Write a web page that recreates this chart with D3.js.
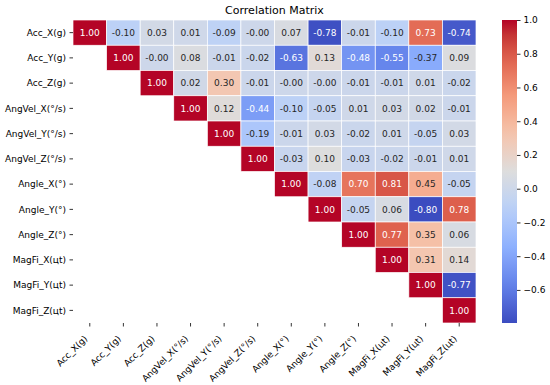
<!DOCTYPE html>
<html><head><meta charset="utf-8">
<script src="https://cdn.jsdelivr.net/npm/d3@7"></script>
<style>
html,body{margin:0;padding:0;background:#fff;}
text{font-family:"DejaVu Sans",sans-serif;}
</style></head>
<body>
<svg id="chart" width="550" height="385"></svg>
<script>
const labels = ["Acc_X(g)","Acc_Y(g)","Acc_Z(g)","AngVel_X(°/s)","AngVel_Y(°/s)","AngVel_Z(°/s)",
  "Angle_X(°)","Angle_Y(°)","Angle_Z(°)","MagFi_X(цt)","MagFi_Y(цt)","MagFi_Z(цt)"];
// upper-triangle rows (starting at the diagonal)
const row0 = [1.00,-0.10,0.03,0.01,-0.09,-0.001,0.07,-0.78,-0.01,-0.10,0.73,-0.74];
const row1 = [1.00,-0.001,0.08,-0.01,-0.02,-0.63,0.13,-0.48,-0.55,-0.37,0.09];
const row2 = [1.00,0.02,0.30,-0.01,-0.001,-0.001,-0.01,-0.01,0.01,-0.02];
const row3 = [1.00,0.12,-0.44,-0.10,-0.05,0.01,0.03,0.02,-0.01];
const row4 = [1.00,-0.19,-0.01,0.03,-0.02,0.01,-0.05,0.03];
const row5 = [1.00,-0.03,0.10,-0.03,-0.02,-0.01,0.01];
const row6 = [1.00,-0.08,0.70,0.81,0.45,-0.05];
const row7 = [1.00,-0.05,0.06,-0.796,0.78];
const row8 = [1.00,0.77,0.35,0.06];
const row9 = [1.00,0.31,0.14];
const row10 = [1.00,-0.77];
const row11 = [1.00];
const rows = [row0,row1,row2,row3,row4,row5,row6,row7,row8,row9,row10,row11];
const cbarTicks = [1.0,0.8,0.6,0.4,0.2,0.0,-0.2,-0.4,-0.6];
const title = "Correlation Matrix";

// coolwarm colormap samples
const cwStops = ["#3b4cc0","#6282ea","#8db0fe","#b8d0f9","#dddddd","#f5c4ac","#f49a7b","#de604d","#b40426"];
const cw = d3.scaleLinear().domain(d3.range(9).map(i=>i/8)).range(cwStops).interpolate(d3.interpolateLab).clamp(true);

const cells = [];
rows.forEach((r,i)=>r.forEach((v,k)=>cells.push({row:i,col:i+k,v})));
const vmin = d3.min(cells,d=>d.v), vmax = d3.max(cells,d=>d.v);
const norm = d3.scaleLinear().domain([vmin,vmax]).range([0,1]);
const color = v => cw(norm(v));

const svg = d3.select("#chart");
const gx0=73, gx1=476, gy0=20, gy1=323;
const x = d3.scaleBand().domain(d3.range(12)).range([gx0,gx1]);
const y = d3.scaleBand().domain(d3.range(12)).range([gy0,gy1]);

function lum(c){
  const rgb = d3.rgb(c);
  const f = u=>{u/=255;return u<=0.03928?u/12.92:Math.pow((u+0.055)/1.055,2.4);};
  return 0.2126*f(rgb.r)+0.7152*f(rgb.g)+0.0722*f(rgb.b);
}

const g = svg.append("g");
g.selectAll("rect.cell").data(cells).join("rect")
  .attr("x",d=>x(d.col)).attr("y",d=>y(d.row))
  .attr("width",x.bandwidth()).attr("height",y.bandwidth())
  .attr("fill",d=>color(d.v)).attr("stroke","#fff").attr("stroke-width",0.7);
g.selectAll("text.ann").data(cells).join("text")
  .attr("x",d=>x(d.col)+x.bandwidth()/2).attr("y",d=>y(d.row)+y.bandwidth()/2)
  .attr("text-anchor","middle").attr("dy","0.35em")
  .attr("font-size","9px")
  .attr("fill",d=>lum(color(d.v))>0.408?"#262626":"#fff")
  .text(d=>d.v.toFixed(2));

// y axis
const ya = svg.append("g");
labels.forEach((l,i)=>{
  const cy=y(i)+y.bandwidth()/2;
  ya.append("line").attr("x1",gx0-3.5).attr("x2",gx0).attr("y1",cy).attr("y2",cy).attr("stroke","#000").attr("stroke-width",0.8);
  ya.append("text").attr("x",gx0-7).attr("y",cy).attr("dy","0.35em").attr("text-anchor","end").attr("font-size","9px").text(l);
});
// x axis
const xa = svg.append("g");
labels.forEach((l,i)=>{
  const cx=x(i)+x.bandwidth()/2;
  xa.append("line").attr("x1",cx).attr("x2",cx).attr("y1",gy1).attr("y2",gy1+3.5).attr("stroke","#000").attr("stroke-width",0.8);
  xa.append("text").attr("transform",`translate(${cx-4},${gy1+14}) rotate(-45)`)
    .attr("text-anchor","end").attr("dy","0.35em").attr("font-size","9px").text(l);
});

// title
svg.append("text").attr("x",(gx0+gx1)/2).attr("y",14).attr("text-anchor","middle").attr("font-size","11px").text(title);

// colorbar
const cbx=502, cbw=15;
const cy = d3.scaleLinear().domain([vmin,vmax]).range([gy1,gy0]);
const defs = svg.append("defs");
const grad = defs.append("linearGradient").attr("id","cbg").attr("x1",0).attr("y1",1).attr("x2",0).attr("y2",0);
d3.range(0,1.0001,0.05).forEach(t=>grad.append("stop").attr("offset",t).attr("stop-color",cw(t)));
svg.append("rect").attr("x",cbx).attr("y",gy0).attr("width",cbw).attr("height",gy1-gy0).attr("fill","url(#cbg)");
const cax = svg.append("g").attr("transform",`translate(${cbx+cbw},0)`)
  .call(d3.axisRight(cy).tickValues(cbarTicks).tickSize(3.5).tickPadding(3).tickFormat(d3.format(".1f")));
cax.select(".domain").remove();
cax.selectAll("text").attr("font-size","9px").attr("font-family","DejaVu Sans").attr("fill","#000");
cax.selectAll("line").attr("stroke","#000").attr("stroke-width",0.8);
</script>
</body></html>
